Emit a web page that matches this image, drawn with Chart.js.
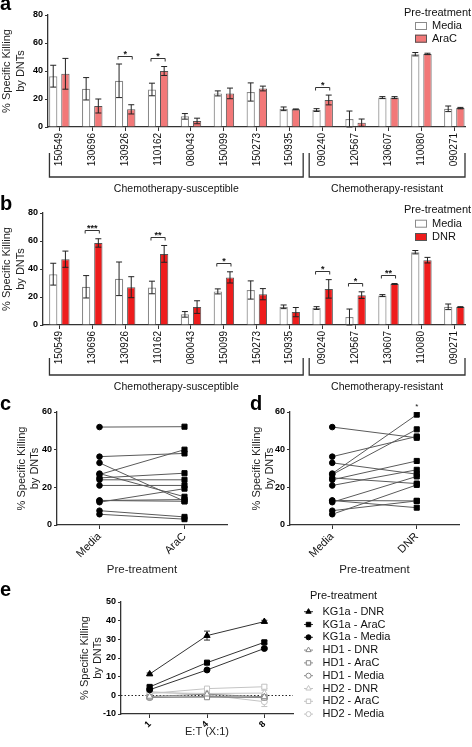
<!DOCTYPE html>
<html>
<head>
<meta charset="utf-8">
<title>DNT killing</title>
<script src="https://cdn.jsdelivr.net/npm/chart.js@4.4.1/dist/chart.umd.min.js"></script>
<style>
  body { margin: 0; background: #fff; }
  #fig { position: relative; width: 472px; height: 747px; overflow: hidden; font-family: "Liberation Sans", Arial, sans-serif; }
  #fig canvas { position: absolute; }
  .tag { position: absolute; font-size: 20px; font-weight: bold; line-height: 20px; color: #000; }
</style>
</head>
<body>
<div id="fig">
  <canvas id="chartA" width="472" height="200" style="left:0;top:0"></canvas>
  <canvas id="chartB" width="472" height="195" style="left:0;top:200px"></canvas>
  <canvas id="chartC" width="236" height="180" style="left:0;top:400px"></canvas>
  <canvas id="chartD" width="236" height="180" style="left:236px;top:400px"></canvas>
  <canvas id="chartE" width="472" height="162" style="left:0;top:585px"></canvas>
  <div class="tag" style="left:0;top:-7px">a</div>
  <div class="tag" style="left:0;top:193px">b</div>
  <div class="tag" style="left:0;top:393px">c</div>
  <div class="tag" style="left:250px;top:393px">d</div>
  <div class="tag" style="left:0;top:579px">e</div>
</div>
<script>
// patient samples
const cats = ['150549', '130696', '130926', '110162', '080043', '150099', '150273', '150935',
              '090240', '120567', '130607', '110080', '090271'];
const groupNames = ['Chemotherapy-susceptible', 'Chemotherapy-resistant'];
const groupSizes = [8, 5];

const media    = [36.3, 27.3, 33.0, 26.8, 7.6, 24.0, 25.0, 13.0, 12.1, 5.7, 21.0, 52.0, 13.0];
const mediaErr = [7.8, 8.0, 12.0, 4.5, 2.0, 1.8, 6.5, 1.3, 1.0, 5.7, 0.7, 1.2, 2.0];
const arac     = [38.0, 15.0, 12.6, 40.0, 4.3, 24.0, 27.5, 12.6, 19.3, 3.1, 21.0, 52.2, 13.5];
const aracErr  = [11.0, 5.0, 3.3, 3.2, 2.0, 3.8, 1.7, 0.3, 3.5, 2.6, 0.7, 0.5, 0.5];
const dnr      = [47.0, 58.6, 27.0, 50.8, 12.8, 34.0, 22.0, 9.2, 25.8, 21.3, 29.3, 46.3, 12.8];
const dnrErr   = [5.8, 3.0, 7.5, 6.0, 4.5, 4.0, 4.0, 3.3, 6.6, 2.4, 0.3, 2.0, 0.3];
const sigArac  = ['', '', '*', '*', '', '', '', '', '*', '', '', '', ''];
const sigDnr   = ['', '***', '', '**', '', '*', '', '', '*', '*', '**', '', ''];

// panel e, E:T ratio curves
const etRatios = ['1', '4', '8'];
const eNames = ['KG1a - DNR', 'KG1a - AraC', 'KG1a - Media', 'HD1 - DNR', 'HD1 - AraC', 'HD1 - Media',
                'HD2 - DNR', 'HD2 - AraC', 'HD2 - Media'];
const kg1aDnr   = [11.4, 32.0, 39.5];  const kg1aDnrErr   = [0.6, 2.4, 0.7];
const kg1aArac  = [4.5, 17.5, 28.4];   const kg1aAracErr  = [0.6, 0.6, 0.8];
const kg1aMedia = [3.0, 13.6, 25.1];   const kg1aMediaErr = [0.5, 0.5, 0.6];
const hd1Dnr    = [-0.6, 0.6, -0.8];   const hd1DnrErr    = [1.0, 1.0, 1.2];
const hd1Arac   = [-1.0, -1.0, -1.2];  const hd1AracErr   = [0.8, 0.6, 1.0];
const hd1Media  = [-1.2, -0.6, -1.0];  const hd1MediaErr  = [0.8, 0.6, 0.8];
const hd2Dnr    = [1.4, 1.0, 1.2];     const hd2DnrErr    = [1.5, 1.2, 1.5];
const hd2Arac   = [1.0, 3.6, 4.6];     const hd2AracErr   = [1.2, 0.8, 1.0];
const hd2Media  = [2.0, 0.2, -3.4];    const hd2MediaErr  = [2.5, 1.0, 2.6];

const eSeries = [kg1aDnr, kg1aArac, kg1aMedia, hd1Dnr, hd1Arac, hd1Media, hd2Dnr, hd2Arac, hd2Media];
const eErrors = [kg1aDnrErr, kg1aAracErr, kg1aMediaErr, hd1DnrErr, hd1AracErr, hd1MediaErr,
                 hd2DnrErr, hd2AracErr, hd2MediaErr];

const FONT = '"Liberation Sans", Arial, sans-serif';
Chart.defaults.font.family = FONT;
Chart.defaults.color = '#111';
Chart.defaults.animation = false;
Chart.defaults.plugins.legend.display = false;
Chart.defaults.plugins.tooltip.enabled = false;

const ink = '#333';
const numFont = {size: 9, weight: 'bold'};
const ttlFont = {size: 11};

function yScale(w, min, max, step, pad) {
    return {
        min: min, max: max,
        ticks: {stepSize: step, font: numFont, padding: 2, color: '#000'},
        grid: {drawOnChartArea: false, tickLength: 3, color: ink},
        border: {color: ink, width: 1.3},
        title: {display: true, text: ['% Specific Killing', 'by DNTs'], font: ttlFont,
                padding: {top: pad, bottom: 0}, color: '#222'},
        afterFit: s => { s.width = w; }
    };
}

function drawErrors(chart) {
    const ctx = chart.ctx, y = chart.scales.y;
    chart.data.datasets.forEach((ds, di) => {
        if (!ds.errors) return;
        const meta = chart.getDatasetMeta(di);
        ctx.save();
        ctx.strokeStyle = ds.errorColor || '#222';
        ctx.lineWidth = 1;
        meta.data.forEach((el, i) => {
            const raw = ds.data[i];
            const v = typeof raw === 'object' ? raw.y : raw;
            const e = ds.errors[i];
            const x = el.x, t = y.getPixelForValue(v + e), b = y.getPixelForValue(v - e);
            ctx.beginPath();
            ctx.moveTo(x, t); ctx.lineTo(x, b);
            ctx.moveTo(x - 3, t); ctx.lineTo(x + 3, t);
            ctx.moveTo(x - 3, b); ctx.lineTo(x + 3, b);
            ctx.stroke();
        });
        ctx.restore();
    });
}

const errorBars = {
    id: 'errorBars',
    beforeDatasetsDraw(chart, args, opts) { if (opts.behind) drawErrors(chart); },
    afterDatasetsDraw(chart, args, opts) { if (!opts.behind) drawErrors(chart); }
};

const sigMarks = {
    id: 'sigMarks',
    afterDatasetsDraw(chart, args, opts) {
        const ctx = chart.ctx, y = chart.scales.y;
        const [d0, d1] = chart.data.datasets;
        const m0 = chart.getDatasetMeta(0).data, m1 = chart.getDatasetMeta(1).data;
        ctx.save();
        ctx.strokeStyle = ink; ctx.lineWidth = 1; ctx.fillStyle = '#111';
        ctx.font = 'bold 9px ' + FONT; ctx.textAlign = 'center'; ctx.textBaseline = 'alphabetic';
        opts.labels.forEach((lab, i) => {
            if (!lab) return;
            const top = Math.max(d0.data[i].y + d0.errors[i], d1.data[i].y + d1.errors[i]) + 6;
            const py = Math.round(y.getPixelForValue(top)) + 0.5;
            const x0 = m0[i].x - 1, x1 = m1[i].x + 1;
            ctx.beginPath();
            ctx.moveTo(x0, py + 3); ctx.lineTo(x0, py); ctx.lineTo(x1, py); ctx.lineTo(x1, py + 3);
            ctx.stroke();
            ctx.fillText(lab, (x0 + x1) / 2, py + 0.5);
        });
        ctx.restore();
    }
};

const groupBrackets = {
    id: 'groupBrackets',
    afterDraw(chart, args, opts) {
        const ctx = chart.ctx, area = chart.chartArea, x = chart.scales.x;
        const b = area.bottom;
        ctx.save();
        ctx.strokeStyle = ink; ctx.lineWidth = 1.3; ctx.fillStyle = '#111';
        ctx.font = '10.5px ' + FONT; ctx.textAlign = 'center'; ctx.textBaseline = 'middle';
        let start = 0;
        groupSizes.forEach((n, g) => {
            const end = start + n - 1;
            const xl = g === 0 ? x.getPixelForValue(start - 0.3) : x.getPixelForValue(start - 0.5) + 3;
            const xr = g === groupSizes.length - 1 ? area.right : x.getPixelForValue(end + 0.5) - 3;
            ctx.beginPath();
            ctx.moveTo(xl, b + opts.tip); ctx.lineTo(xl, b + opts.line);
            ctx.lineTo(xr, b + opts.line); ctx.lineTo(xr, b + opts.tip);
            ctx.stroke();
            ctx.fillText(groupNames[g], (xl + xr) / 2, b + opts.label);
            start += n;
        });
        ctx.restore();
    }
};

const boxLegend = {
    id: 'boxLegend',
    afterDraw(chart, args, opts) {
        const ctx = chart.ctx;
        ctx.save();
        ctx.font = '11px ' + FONT; ctx.textBaseline = 'middle';
        ctx.fillStyle = '#111'; ctx.textAlign = 'center';
        ctx.fillText('Pre-treatment', opts.x + 22.5, opts.y);
        ctx.textAlign = 'left';
        chart.data.datasets.forEach((ds, i) => {
            const cy = opts.y + opts.first + i * opts.step;
            ctx.fillStyle = ds.backgroundColor;
            ctx.fillRect(opts.x, cy - 4, 12, 8);
            ctx.strokeStyle = ds.borderColor; ctx.lineWidth = 1;
            ctx.strokeRect(opts.x + 0.5, cy - 3.5, 11, 7);
            ctx.fillStyle = '#111';
            ctx.fillText(ds.label, opts.x + 17, cy);
        });
        ctx.restore();
    }
};

function barPanel(id, second, secondErr, secondLabel, secondColor, sig, o) {
    const barOpts = {categoryPercentage: 0.74, barPercentage: 0.68};
    return new Chart(document.getElementById(id), {
        type: 'bar',
        data: {
            datasets: [
                Object.assign({label: 'Media', data: media.map((v, i) => ({x: i, y: v})), errors: mediaErr,
                               backgroundColor: '#fff', borderColor: '#8a8a8a', borderWidth: 1.2}, barOpts),
                Object.assign({label: secondLabel, data: second.map((v, i) => ({x: i, y: v})), errors: secondErr,
                               backgroundColor: secondColor, borderColor: '#555', borderWidth: 1}, barOpts)
            ]
        },
        options: {
            responsive: false,
            layout: {padding: {top: o.top, right: 7, left: 0, bottom: 0}},
            scales: {
                x: {
                    type: 'linear', min: o.xmin, max: 12.325, offset: false, bounds: 'data',
                    afterBuildTicks: s => { s.ticks = cats.map((c, i) => ({value: i})); },
                    ticks: {callback: v => cats[v], autoSkip: false, minRotation: 90, maxRotation: 90,
                            font: {size: 10}, padding: 2, color: '#111'},
                    grid: {drawOnChartArea: false, tickLength: 4, color: ink, offset: false},
                    border: {color: ink, width: 1.3},
                    afterFit: s => { s.height = o.xh; }
                },
                y: yScale(o.yw, 0, 80, 20, 0.7)
            },
            plugins: {errorBars: {behind: false}, sigMarks: {labels: sig}, groupBrackets: o.br, boxLegend: o.lg}
        },
        plugins: [errorBars, sigMarks, groupBrackets, boxLegend]
    });
}

barPanel('chartA', arac, aracErr, 'AraC', '#f27878', sigArac,
         {top: 15, xmin: -0.344, xh: 73, yw: 48,
          br: {tip: 26, line: 50, label: 62}, lg: {x: 415, y: 12.7, first: 13.3, step: 12.7}});
barPanel('chartB', dnr, dnrErr, 'DNR', '#ee1c1c', sigDnr,
         {top: 13, xmin: -0.496, xh: 70, yw: 43,
          br: {tip: 33, line: 50, label: 61.7}, lg: {x: 415, y: 10, first: 13.7, step: 13.3}});

const pairStar = {
    id: 'pairStar',
    afterDatasetsDraw(chart, args, opts) {
        if (!opts.label) return;
        const ctx = chart.ctx, x = chart.scales.x, y = chart.scales.y;
        const top = Math.max(...chart.data.datasets.map(d => d.data[1])) + 3;
        ctx.save();
        ctx.font = '8px ' + FONT; ctx.fillStyle = '#111'; ctx.textAlign = 'center'; ctx.textBaseline = 'alphabetic';
        ctx.fillText(opts.label, x.getPixelForValue(1), y.getPixelForValue(top));
        ctx.restore();
    }
};

function pairPanel(id, label2, second, o) {
    return new Chart(document.getElementById(id), {
        type: 'line',
        data: {
            labels: ['Media', label2],
            datasets: cats.map((c, i) => ({
                label: c, data: [media[i], second[i]],
                borderColor: '#5a5a5a', borderWidth: 1,
                pointStyle: ['circle', 'rect'], pointRadius: [2.8, 3.6],
                pointBackgroundColor: '#000', pointBorderColor: '#000', pointBorderWidth: 1
            }))
        },
        options: {
            responsive: false,
            layout: {padding: {top: 12, right: o.right, left: 0, bottom: 0}},
            scales: {
                x: {
                    offset: true,
                    ticks: {minRotation: 45, maxRotation: 45, font: {size: 11}, padding: 1, color: '#111'},
                    grid: {drawOnChartArea: false, tickLength: 4, color: ink},
                    border: {color: ink, width: 1.3},
                    title: {display: true, text: 'Pre-treatment', font: {size: 11.5}, padding: {top: 0, bottom: 3.4}, color: '#222'},
                    afterFit: s => { s.height = 55; }
                },
                y: yScale(o.yw, 0, 60, 20, o.tpad)
            },
            plugins: {pairStar: {label: o.star}}
        },
        plugins: [pairStar]
    });
}

pairPanel('chartC', 'AraC', arac, {right: 9, yw: 57, tpad: 15.4, star: ''});
pairPanel('chartD', 'DNR', dnr, {right: 13, yw: 54, tpad: 14.4, star: '*'});

// panel e
const eColors = ['#333', '#8a8a8a', '#c4c4c4'];
const eShapes = ['triangle', 'rect', 'circle'];
const eRadius = [3.6, 3.6, 3];

function marker(ctx, style, x, y, r) {
    ctx.beginPath();
    if (style === 'circle') ctx.arc(x, y, r, 0, Math.PI * 2);
    else if (style === 'rect') ctx.rect(x - r * 0.72, y - r * 0.72, r * 1.44, r * 1.44);
    else { ctx.moveTo(x, y - r); ctx.lineTo(x + r * 0.87, y + r * 0.5); ctx.lineTo(x - r * 0.87, y + r * 0.5); ctx.closePath(); }
    ctx.fill(); ctx.stroke();
}

const zeroLine = {
    id: 'zeroLine',
    beforeDatasetsDraw(chart) {
        const ctx = chart.ctx, area = chart.chartArea;
        const py = Math.round(chart.scales.y.getPixelForValue(0)) + 0.5;
        ctx.save();
        ctx.strokeStyle = '#222'; ctx.lineWidth = 1; ctx.setLineDash([1.5, 2]);
        ctx.beginPath(); ctx.moveTo(area.left, py); ctx.lineTo(area.right, py); ctx.stroke();
        ctx.restore();
    }
};

const lineLegend = {
    id: 'lineLegend',
    afterDraw(chart, args, opts) {
        const ctx = chart.ctx;
        ctx.save();
        ctx.font = '11px ' + FONT; ctx.textBaseline = 'middle';
        ctx.fillStyle = '#111'; ctx.textAlign = 'center';
        ctx.fillText('Pre-treatment', opts.x + 35, opts.y);
        ctx.textAlign = 'left';
        chart.data.datasets.forEach((ds, i) => {
            const cy = opts.y + opts.first + i * opts.step;
            ctx.strokeStyle = ds.borderColor; ctx.lineWidth = 1;
            ctx.beginPath(); ctx.moveTo(opts.x - 4.5, cy); ctx.lineTo(opts.x + 4.5, cy); ctx.stroke();
            ctx.fillStyle = ds.pointBackgroundColor; ctx.strokeStyle = ds.pointBorderColor;
            marker(ctx, ds.pointStyle, opts.x, cy, ds.pointRadius * 0.85);
            ctx.fillStyle = '#111';
            ctx.fillText(ds.label, opts.x + 14, cy);
        });
        ctx.restore();
    }
};

new Chart(document.getElementById('chartE'), {
    type: 'line',
    data: {
        labels: etRatios,
        datasets: eNames.map((n, i) => {
            const g = Math.floor(i / 3), s = i % 3, col = eColors[g];
            return {
                label: n, data: eSeries[i], errors: eErrors[i], errorColor: col,
                borderColor: col, borderWidth: 1,
                pointStyle: eShapes[s], pointRadius: eRadius[s], pointBorderWidth: 1,
                pointBackgroundColor: g === 0 ? '#000' : '#fff',
                pointBorderColor: g === 0 ? '#000' : col
            };
        })
    },
    options: {
        responsive: false,
        layout: {padding: {top: 17, right: 179, left: 0, bottom: 0}},
        scales: {
            x: {
                offset: true,
                ticks: {minRotation: 45, maxRotation: 45, font: numFont, padding: 1, color: '#000'},
                grid: {drawOnChartArea: false, tickLength: 4, color: ink},
                border: {color: ink, width: 1.3},
                title: {display: true, text: 'E:T (X:1)', font: ttlFont, padding: {top: 0, bottom: 8.4}, color: '#222'},
                afterFit: s => { s.height = 33; }
            },
            y: yScale(121, -10, 50, 10, 78.4)
        },
        plugins: {errorBars: {behind: true}, lineLegend: {x: 308.5, y: 11, first: 15.7, step: 12.8}}
    },
    plugins: [zeroLine, errorBars, lineLegend]
});
</script>
</body>
</html>
